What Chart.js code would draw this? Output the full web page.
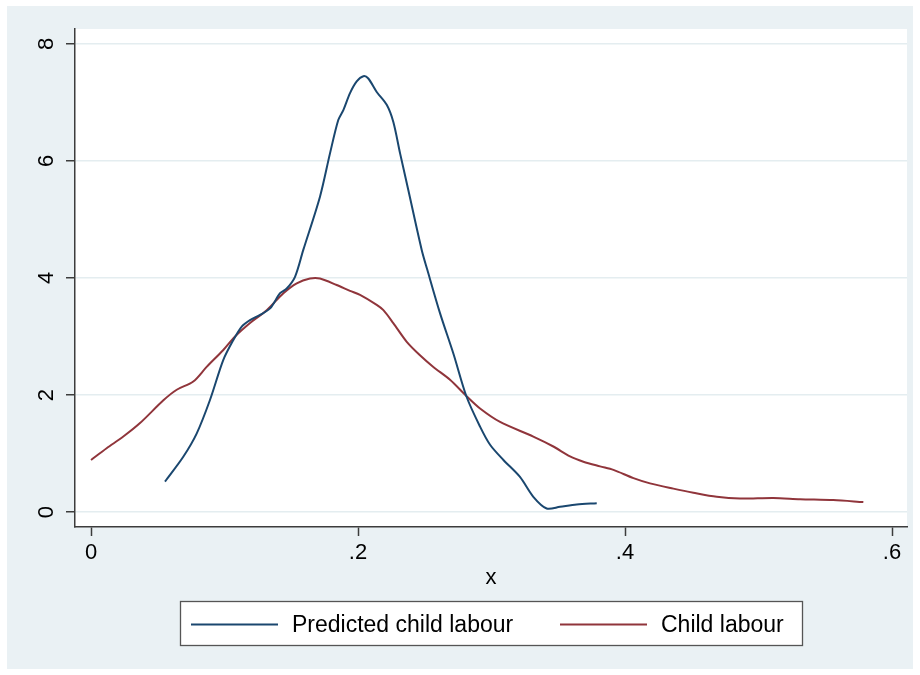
<!DOCTYPE html>
<html>
<head>
<meta charset="utf-8">
<script src="https://cdn.jsdelivr.net/npm/chart.js@4.4.1/dist/chart.umd.min.js"></script>
<style>
  html, body { margin: 0; padding: 0; background: #ffffff; }
  #wrap { width: 920px; height: 675px; }
</style>
</head>
<body>
<div id="wrap"><canvas id="myChart" width="920" height="675"></canvas></div>
<script>
'use strict';
// values
var predX = [0.0554, 0.0691, 0.0792, 0.0891, 0.0991, 0.1066, 0.1129, 0.1191, 0.1266, 0.1341, 0.1416, 0.1466,
  0.1528, 0.159, 0.1715, 0.179, 0.1852, 0.189, 0.194, 0.199, 0.204, 0.2077, 0.214, 0.2215, 0.2264, 0.2315,
  0.2377, 0.2477, 0.2519, 0.2614, 0.2714, 0.2813, 0.2914, 0.2989, 0.3089, 0.3213, 0.3313, 0.3413, 0.3513,
  0.3638, 0.3788];
var predY = [0.52, 0.945, 1.345, 1.915, 2.60, 2.94, 3.17, 3.28, 3.37, 3.48, 3.74, 3.82,
  4.02, 4.48, 5.39, 6.13, 6.70, 6.87, 7.16, 7.36, 7.45, 7.41, 7.18, 6.96, 6.67, 6.13,
  5.50, 4.48, 4.14, 3.40, 2.71, 1.97, 1.46, 1.15, 0.89, 0.60, 0.26, 0.06, 0.09,
  0.13, 0.15];

var childX = [0, 0.0117, 0.0242, 0.0367, 0.0542, 0.0642, 0.0766, 0.0866, 0.0991, 0.1079, 0.1191, 0.1316,
  0.1441, 0.1541, 0.164, 0.1715, 0.184, 0.194, 0.2015, 0.214, 0.219, 0.2264, 0.2365, 0.2464, 0.2564,
  0.2689, 0.2813, 0.2914, 0.3064, 0.3313, 0.3463, 0.3588, 0.3688, 0.3813, 0.3913, 0.4063, 0.4187, 0.4362,
  0.4512, 0.4687, 0.4861, 0.5111, 0.5311, 0.556, 0.5785];
var childY = [0.89, 1.09, 1.29, 1.52, 1.91, 2.09, 2.23, 2.48, 2.77, 3.00, 3.23, 3.45,
  3.74, 3.91, 3.99, 3.99, 3.88, 3.78, 3.71, 3.54, 3.45, 3.23, 2.91, 2.68, 2.48,
  2.26, 1.98, 1.77, 1.54, 1.29, 1.12, 0.95, 0.86, 0.78, 0.72, 0.58, 0.49, 0.40,
  0.33, 0.26, 0.23, 0.24, 0.22, 0.205, 0.17];

var seriesNames = ['Predicted child labour', 'Child labour'];
var xTicks = [0, 0.2, 0.4, 0.6];
var xTickLabels = ['0', '.2', '.4', '.6'];
var yTicks = [0, 2, 4, 6, 8];
var yTickLabels = ['0', '2', '4', '6', '8'];
var xTitle = 'x';

var FONT = '"Liberation Sans", Arial, Helvetica, sans-serif';
var BLUE = '#1a476f';
var RED = '#90353b';
var AXIS = '#3c3c3c';

function toPoints(xs, ys) {
  var pts = [];
  for (var i = 0; i < xs.length; i++) {
    pts.push({x: xs[i], y: ys[i]});
  }
  return pts;
}

// stata like background: bluish page and white plot region
var backgroundPlugin = {
  id: 'backgroundPlugin',
  beforeDraw: function (chart) {
    var ctx = chart.ctx;
    var a = chart.chartArea;
    ctx.save();
    ctx.fillStyle = '#eaf1f4';
    ctx.fillRect(7, 6, 906, 663);
    ctx.fillStyle = '#ffffff';
    ctx.fillRect(a.left, a.top, a.right - a.left, a.bottom - a.top);
    ctx.restore();
  }
};

// y tick labels are turned on their side
var rotatedYLabels = {
  id: 'rotatedYLabels',
  afterDraw: function (chart) {
    var ctx = chart.ctx;
    var ys = chart.scales.y;
    ctx.save();
    ctx.font = '22px ' + FONT;
    ctx.fillStyle = '#000000';
    ctx.textAlign = 'center';
    ctx.textBaseline = 'middle';
    for (var i = 0; i < yTicks.length; i++) {
      var py = ys.getPixelForValue(yTicks[i]);
      ctx.save();
      ctx.translate(47, py);
      ctx.rotate(-Math.PI / 2);
      ctx.fillText(yTickLabels[i], 0, 0);
      ctx.restore();
    }
    ctx.restore();
  }
};

// boxed legend under the axis title
var boxLegend = {
  id: 'boxLegend',
  afterDraw: function (chart) {
    var ctx = chart.ctx;
    var sets = chart.data.datasets;
    var boxL = 180, boxT = 601, boxR = 802, boxB = 645;
    var midY = 624.5;
    ctx.save();
    ctx.fillStyle = '#ffffff';
    ctx.fillRect(boxL, boxT, boxR - boxL, boxB - boxT);
    ctx.strokeStyle = '#555555';
    ctx.lineWidth = 1.3;
    ctx.strokeRect(boxL + 0.5, boxT + 0.5, boxR - boxL, boxB - boxT);
    ctx.font = '23px ' + FONT;
    ctx.textBaseline = 'middle';
    ctx.textAlign = 'left';
    var starts = [191, 560];
    for (var i = 0; i < sets.length; i++) {
      ctx.strokeStyle = sets[i].borderColor;
      ctx.lineWidth = 2;
      ctx.beginPath();
      ctx.moveTo(starts[i], midY);
      ctx.lineTo(starts[i] + 87, midY);
      ctx.stroke();
      ctx.fillStyle = '#000000';
      ctx.fillText(sets[i].label, starts[i] + 101, midY + 1);
    }
    ctx.restore();
  }
};

var ctx = document.getElementById('myChart').getContext('2d');
var chart = new Chart(ctx, {
  type: 'line',
  data: {
    datasets: [{
      label: seriesNames[0],
      data: toPoints(predX, predY),
      borderColor: BLUE,
      backgroundColor: BLUE,
      borderWidth: 2,
      pointRadius: 0,
      tension: 0.3,
      fill: false
    }, {
      label: seriesNames[1],
      data: toPoints(childX, childY),
      borderColor: RED,
      backgroundColor: RED,
      borderWidth: 2,
      pointRadius: 0,
      tension: 0.3,
      fill: false
    }]
  },
  options: {
    responsive: false,
    animation: false,
    layout: { padding: { left: 0, top: 29, right: 13, bottom: 80 } },
    plugins: {
      legend: { display: false },
      tooltip: { enabled: false }
    },
    scales: {
      x: {
        type: 'linear',
        min: -0.012,
        max: 0.6112,
        afterBuildTicks: function (scale) {
          scale.ticks = xTicks.map(function (v) { return {value: v}; });
        },
        afterFit: function (scale) { scale.height = 68; },
        ticks: {
          font: { family: FONT, size: 22 },
          color: '#000000',
          padding: 4,
          maxRotation: 0,
          callback: function (v) {
            var i = xTicks.indexOf(v);
            return i >= 0 ? xTickLabels[i] : '';
          }
        },
        grid: {
          drawOnChartArea: false,
          drawTicks: true,
          tickLength: 9,
          tickColor: AXIS,
          tickWidth: 1.5
        },
        border: { display: true, color: AXIS, width: 1.5 },
        title: {
          display: true,
          text: xTitle,
          font: { family: FONT, size: 22 },
          color: '#000000',
          padding: { top: 4, bottom: 4 }
        }
      },
      y: {
        type: 'linear',
        min: -0.256,
        max: 8.256,
        afterBuildTicks: function (scale) {
          scale.ticks = yTicks.map(function (v) { return {value: v}; });
        },
        afterFit: function (scale) { scale.width = 75; },
        ticks: {
          color: 'rgba(0,0,0,0)',
          font: { family: FONT, size: 22 }
        },
        grid: {
          color: '#e4edf0',
          lineWidth: 1.5,
          tickLength: 9,
          tickColor: AXIS,
          tickWidth: 1.5
        },
        border: { display: true, color: AXIS, width: 1.5 }
      }
    }
  },
  plugins: [backgroundPlugin, rotatedYLabels, boxLegend]
});
</script>
</body>
</html>
